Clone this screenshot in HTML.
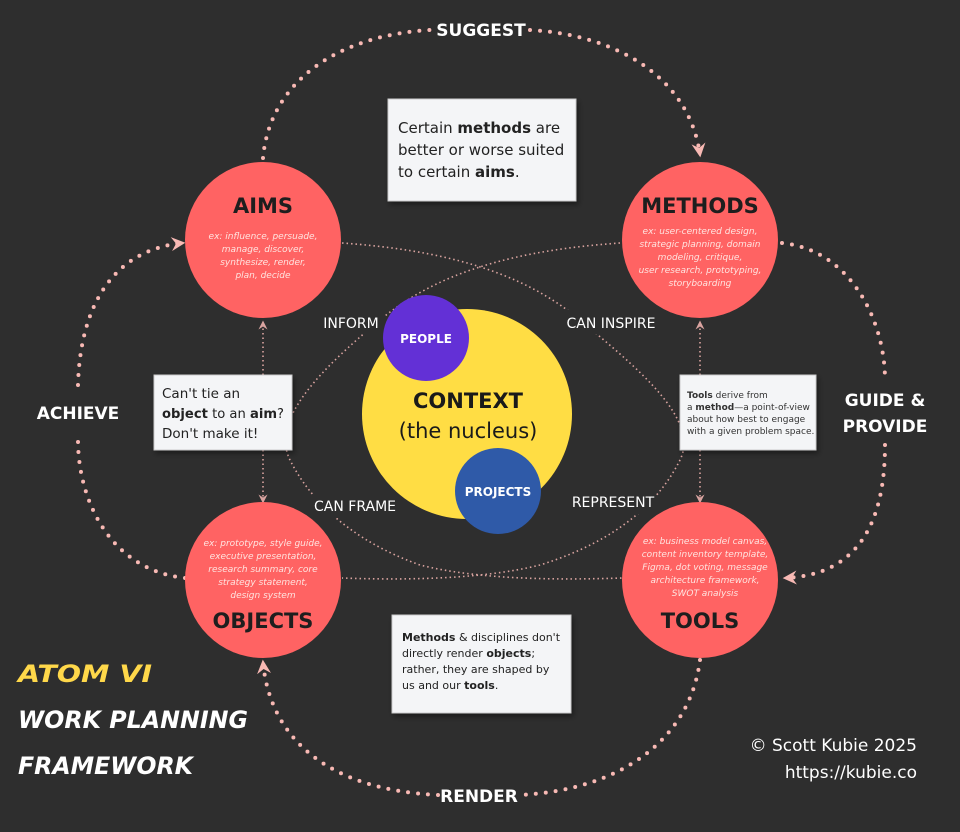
<!DOCTYPE html>
<html><head><meta charset="utf-8"><style>
html,body{margin:0;padding:0;background:#2e2e2e;}
svg{display:block}
text{font-family:"DejaVu Sans","Liberation Sans",sans-serif;}
</style></head><body>
<svg width="960" height="832" viewBox="0 0 960 832" xmlns="http://www.w3.org/2000/svg">
<rect width="960" height="832" fill="#2e2e2e"/>
<defs>
<marker id="ar" viewBox="0 0 12 12" refX="10" refY="6" markerWidth="14" markerHeight="14" orient="auto" markerUnits="userSpaceOnUse">
<path d="M0,0 L12,6 L0,12 L4,6 Z" fill="#f8b9b4"/></marker>
<marker id="as" viewBox="0 0 12 12" refX="10" refY="6" markerWidth="9" markerHeight="9" orient="auto" markerUnits="userSpaceOnUse">
<path d="M0,0 L12,6 L0,12 L4,6 Z" fill="#f8b9b4"/></marker>
<filter id="sh" x="-10%" y="-10%" width="130%" height="130%"><feDropShadow dx="2" dy="3" stdDeviation="3" flood-color="#000" flood-opacity="0.4"/></filter>
</defs>
<g fill="none" stroke="#f8b9b4" stroke-width="4" stroke-linecap="round" stroke-dasharray="0 10">
<path d="M263,158 C270,80 340,35 430,30"/>
<path d="M530,30 C620,35 690,80 700,155" marker-end="url(#ar)"/>
<path d="M782,243 C850,250 885,320 885,380"/>
<path d="M885,445 C885,520 860,575 785,578" marker-end="url(#ar)"/>
<path d="M700,660 C690,740 620,790 520,795"/>
<path d="M438,795 C330,790 270,740 263,662" marker-end="url(#ar)"/>
<path d="M185,578 C110,570 78,500 78,440"/>
<path d="M78,385 C80,310 110,250 183,243" marker-end="url(#ar)"/>
</g>
<g fill="none" stroke="#f8b9b4" stroke-width="1.6" stroke-dasharray="1.5 3" opacity="0.85">
<path d="M263,375 L263,322" marker-end="url(#as)"/>
<path d="M263,450 L263,502" marker-end="url(#as)"/>
<path d="M700,375 L700,322" marker-end="url(#as)"/>
<path d="M700,450 L700,502" marker-end="url(#as)"/>
<path d="M342,243 C440,250 520,270 580,320 C640,370 700,420 680,460 C660,500 620,540 540,565 C480,580 400,580 342,578"/>
<path d="M620,243 C520,250 440,270 380,320 C320,370 270,420 290,460 C310,500 350,540 420,565 C480,580 560,580 622,578"/>
</g>
<g fill="#ffffff" font-size="14">
<rect x="318" y="310" width="66" height="24" fill="#2e2e2e"/>
<text x="351" y="328" text-anchor="middle">INFORM</text>
<rect x="563" y="310" width="96" height="24" fill="#2e2e2e"/>
<text x="611" y="328" text-anchor="middle">CAN INSPIRE</text>
<rect x="312" y="494" width="86" height="24" fill="#2e2e2e"/>
<text x="355" y="511" text-anchor="middle">CAN FRAME</text>
<rect x="570" y="490" width="86" height="24" fill="#2e2e2e"/>
<text x="613" y="507" text-anchor="middle">REPRESENT</text>
</g>
<g fill="#ffffff" font-size="17" font-weight="bold" text-anchor="middle">
<text x="481" y="36">SUGGEST</text>
<text x="479" y="802">RENDER</text>
<text x="78" y="419">ACHIEVE</text>
<text x="885" y="406">GUIDE &amp;</text>
<text x="885" y="432">PROVIDE</text>
</g>
<circle cx="467" cy="414" r="105" fill="#ffdd44"/>
<circle cx="426" cy="338" r="43" fill="#6330d6"/>
<circle cx="498" cy="491" r="43" fill="#2f5aa8"/>
<text x="426" y="343" fill="#fff" font-size="12" font-weight="bold" text-anchor="middle">PEOPLE</text>
<text x="498" y="496" fill="#fff" font-size="12" font-weight="bold" text-anchor="middle">PROJECTS</text>
<text x="468" y="408" fill="#1a1a1a" font-size="21" font-weight="bold" text-anchor="middle">CONTEXT</text>
<text x="468" y="438" fill="#1a1a1a" font-size="21" text-anchor="middle">(the nucleus)</text>
<g fill="#ff6363">
<circle cx="263" cy="240" r="78"/><circle cx="700" cy="240" r="78"/>
<circle cx="263" cy="580" r="78"/><circle cx="700" cy="580" r="78"/>
</g>
<g fill="#1e1e1e" font-size="21" font-weight="bold" text-anchor="middle">
<text x="263" y="213">AIMS</text><text x="700" y="213">METHODS</text>
<text x="263" y="628">OBJECTS</text><text x="700" y="628">TOOLS</text>
</g>
<g fill="#ffe4e0" font-size="9" font-style="italic" text-anchor="middle">
<text x="263" y="239">ex: influence, persuade,</text>
<text x="263" y="252">manage, discover,</text>
<text x="263" y="265">synthesize, render,</text>
<text x="263" y="278">plan, decide</text>
<text x="700" y="234">ex: user-centered design,</text>
<text x="700" y="247">strategic planning, domain</text>
<text x="700" y="260">modeling, critique,</text>
<text x="700" y="273">user research, prototyping,</text>
<text x="700" y="286">storyboarding</text>
<text x="263" y="546">ex: prototype, style guide,</text>
<text x="263" y="559">executive presentation,</text>
<text x="263" y="572">research summary, core</text>
<text x="263" y="585">strategy statement,</text>
<text x="263" y="598">design system</text>
<text x="705" y="544">ex: business model canvas,</text>
<text x="705" y="557">content inventory template,</text>
<text x="705" y="570">Figma, dot voting, message</text>
<text x="705" y="583">architecture framework,</text>
<text x="705" y="596">SWOT analysis</text>
</g>
<g filter="url(#sh)" fill="#f4f5f7" stroke="#ccc" stroke-width="1">
<rect x="388" y="99" width="188" height="102"/>
<rect x="154" y="375" width="138" height="75"/>
<rect x="680" y="375" width="136" height="75"/>
<rect x="392" y="615" width="179" height="98"/>
</g>
<g fill="#222" font-size="15">
<text x="398" y="133">Certain <tspan font-weight="bold">methods</tspan> are</text>
<text x="398" y="155">better or worse suited</text>
<text x="398" y="177">to certain <tspan font-weight="bold">aims</tspan>.</text>
</g>
<g fill="#222" font-size="13.5">
<text x="162" y="398">Can't tie an</text>
<text x="162" y="418" textLength="122" lengthAdjust="spacingAndGlyphs"><tspan font-weight="bold">object</tspan> to an <tspan font-weight="bold">aim</tspan>?</text>
<text x="162" y="438">Don't make it!</text>
</g>
<g fill="#333" font-size="9">
<text x="687" y="398"><tspan font-weight="bold">Tools</tspan>  derive from</text>
<text x="687" y="410">a <tspan font-weight="bold">method</tspan>—a point-of-view</text>
<text x="687" y="422">about how best to engage</text>
<text x="687" y="434">with a given problem space.</text>
</g>
<g fill="#222" font-size="11">
<text x="402" y="641"><tspan font-weight="bold">Methods</tspan> &amp; disciplines don't</text>
<text x="402" y="657">directly render <tspan font-weight="bold">objects</tspan>;</text>
<text x="402" y="673">rather, they are  shaped by</text>
<text x="402" y="689">us and our <tspan font-weight="bold">tools</tspan>.</text>
</g>
<g font-size="24" font-weight="bold" font-style="italic">
<text x="18" y="682" fill="#ffd84a" textLength="134" lengthAdjust="spacingAndGlyphs">ATOM VI</text>
<text x="18" y="728" fill="#fff" textLength="230" lengthAdjust="spacingAndGlyphs">WORK PLANNING</text>
<text x="18" y="774" fill="#fff" textLength="175" lengthAdjust="spacingAndGlyphs">FRAMEWORK</text>
</g>
<g fill="#fff" font-size="17" text-anchor="end">
<text x="917" y="751">© Scott Kubie 2025</text>
<text x="917" y="778">https://kubie.co</text>
</g>
</svg>
</body></html>
